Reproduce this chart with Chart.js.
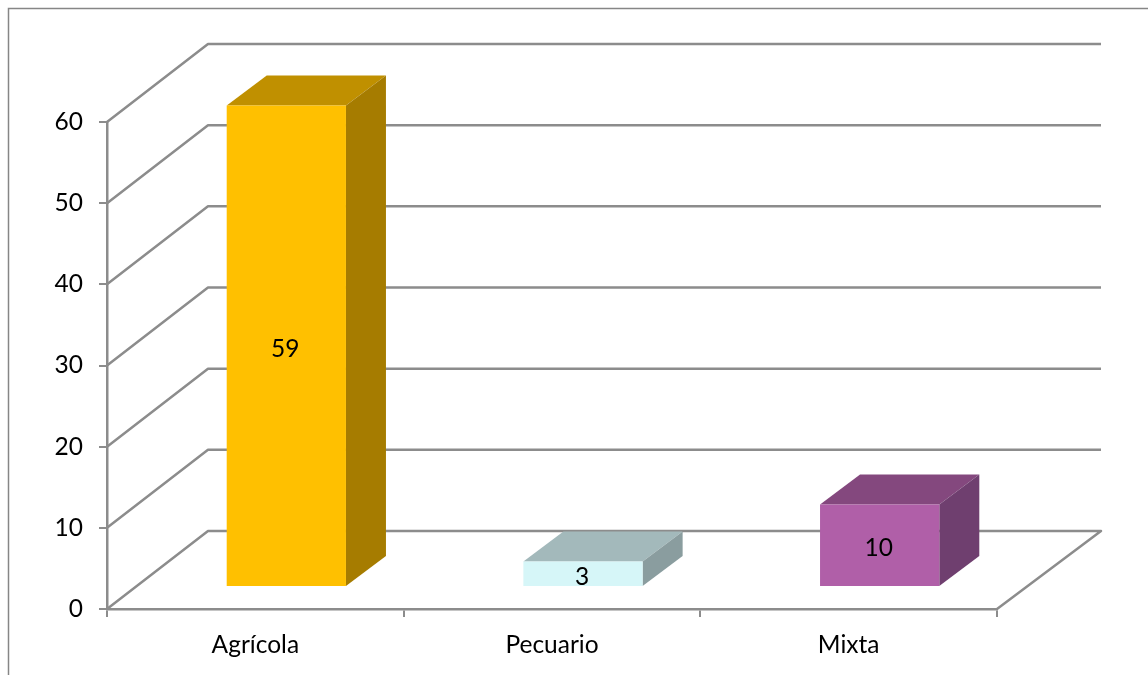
<!DOCTYPE html>
<html>
<head>
<meta charset="utf-8">
<style>
  html, body { margin: 0; padding: 0; background: #fff; }
  canvas { display: block; }
</style>
<script src="https://cdn.jsdelivr.net/npm/chart.js@4"></script>
</head>
<body>
<canvas id="chart" width="1148" height="675"></canvas>
<script>
const categories = ['Agrícola', 'Pecuario', 'Mixta'];
const values = [59, 3, 10];
const tickLabels = [0, 10, 20, 30, 40, 50, 60];

const frontColors = ['#FFC000', '#D6F6F8', '#B05FA8'];
const topColors = ['#C09000', '#A3B9BB', '#84487E'];
const sideColors = ['#A67C00', '#8A9D9F', '#6F3F6F'];

const lineColor = '#8C8C8C';
const fontFamily = 'Lato, sans-serif';
const fontSize = 24.5;

// 3D look: wall depth, where the bars stand on the floor, and the bar depth
const wallDx = 101, wallDy = -78;
const barShiftX = 31, barShiftY = -23;
const barDx = 40, barDy = -30;

function face(ctx, color, pts) {
  ctx.fillStyle = color;
  ctx.beginPath();
  pts.forEach((p, i) => i ? ctx.lineTo(p[0], p[1]) : ctx.moveTo(p[0], p[1]));
  ctx.closePath();
  ctx.fill();
}

const fake3d = {
  id: 'fake3d',
  beforeDatasetsDraw(chart) {
    const ctx = chart.ctx;
    const x = chart.scales.x, y = chart.scales.y;
    ctx.save();
    ctx.strokeStyle = lineColor;
    ctx.lineWidth = 2.5;
    ctx.lineJoin = 'round';
    tickLabels.forEach(v => {
      const py = y.getPixelForValue(v);
      ctx.beginPath();
      ctx.moveTo(x.left, py);
      ctx.lineTo(x.left + wallDx, py + wallDy);
      ctx.lineTo(x.right + wallDx + 3, py + wallDy);
      if (v === 0) ctx.lineTo(x.right, py);
      ctx.stroke();
    });
    ctx.restore();

    // bars are drawn moved back onto the floor
    ctx.save();
    ctx.translate(barShiftX, barShiftY);
    chart.getDatasetMeta(0).data.forEach((bar, i) => {
      const l = bar.x - bar.width / 2, r = bar.x + bar.width / 2;
      face(ctx, topColors[i], [[l, bar.y], [r, bar.y], [r + barDx, bar.y + barDy], [l + barDx, bar.y + barDy]]);
      face(ctx, sideColors[i], [[r, bar.y], [r + barDx, bar.y + barDy], [r + barDx, bar.base + barDy], [r, bar.base]]);
    });
  },
  afterDatasetsDraw(chart) {
    const ctx = chart.ctx;
    ctx.fillStyle = '#000';
    ctx.font = fontSize + 'px ' + fontFamily;
    ctx.textAlign = 'center';
    ctx.textBaseline = 'middle';
    chart.getDatasetMeta(0).data.forEach((bar, i) => {
      ctx.fillText(values[i], bar.x - 1, (bar.y + bar.base) / 2 + 3);
    });
    ctx.restore();

    // outer frame, only top and left are visible
    ctx.save();
    ctx.strokeStyle = '#868686';
    ctx.lineWidth = 1.5;
    ctx.beginPath();
    ctx.moveTo(8.5, 675);
    ctx.lineTo(8.5, 8.5);
    ctx.lineTo(1148, 8.5);
    ctx.stroke();
    ctx.restore();
  }
};

new Chart(document.getElementById('chart').getContext('2d'), {
  type: 'bar',
  data: {
    labels: categories,
    datasets: [{
      data: values,
      yAxisID: 'yBars',
      backgroundColor: frontColors,
      borderWidth: 0,
      barPercentage: 0.402,
      categoryPercentage: 1,
      clip: false
    }]
  },
  plugins: [fake3d],
  options: {
    responsive: false,
    animation: false,
    devicePixelRatio: 1,
    layout: { padding: { top: 122, right: 151, left: 0, bottom: 0 } },
    plugins: { legend: { display: false }, tooltip: { enabled: false } },
    scales: {
      x: {
        afterFit(scale) { scale.height = 66; },
        grid: { drawOnChartArea: false, color: lineColor, tickLength: 8, lineWidth: 2 },
        border: { color: lineColor, width: 2.5 },
        ticks: { color: '#000', padding: 13, maxRotation: 0, font: { family: fontFamily, size: fontSize } }
      },
      y: {
        min: 0,
        max: 60,
        afterFit(scale) { scale.width = 107; },
        grid: { drawOnChartArea: false, color: lineColor, tickLength: 8, lineWidth: 2 },
        border: { color: lineColor, width: 2.5 },
        ticks: { color: '#000', stepSize: 10, padding: 16, font: { family: fontFamily, size: fontSize } }
      },
      // same floor line as y, a touch taller because bars stand further back
      yBars: { display: false, min: 0, max: 59.8 }
    }
  }
});
</script>
</body>
</html>
